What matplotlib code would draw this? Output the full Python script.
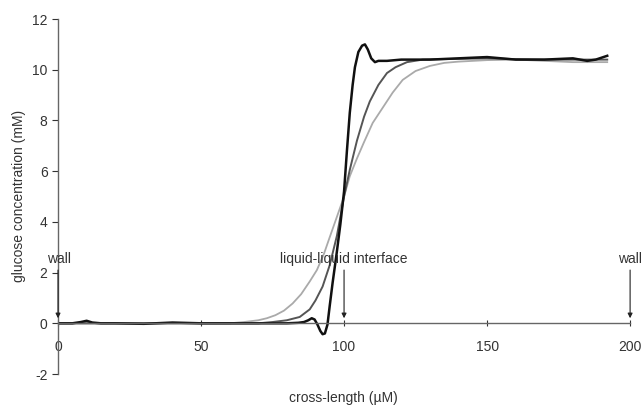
import matplotlib
matplotlib.use('Agg')
import matplotlib.pyplot as plt

plt.rcParams['font.family'] = ['Liberation Sans', 'DejaVu Sans']
plt.rcParams['axes.unicode_minus'] = False

# light gray profile (most diffused)
x_light = [0, 10, 30, 50, 60, 65, 70, 73, 76, 79, 82, 85, 88, 90.5, 93, 95, 97.5, 100, 102, 104.5, 107, 110, 113.5,
           117, 120.5, 125, 130, 135, 140, 150, 160, 170, 180, 192]
y_light = [0, 0, 0, 0, 0, 0.05, 0.12, 0.2, 0.32, 0.5, 0.78, 1.15, 1.65, 2.1, 2.75, 3.4, 4.2, 5.0, 5.8, 6.5, 7.15,
           7.9, 8.5, 9.1, 9.6, 9.95, 10.15, 10.27, 10.32, 10.38, 10.4, 10.35, 10.3, 10.3]

# dark gray profile
x_dark = [0, 30, 50, 70, 75, 80, 84.5, 88, 90, 92.5, 95, 97.5, 100, 102, 104.5, 107, 109, 112, 115, 118, 122,
          127.5, 135, 150, 160, 170, 180, 192]
y_dark = [0, 0, 0, 0, 0.05, 0.12, 0.25, 0.55, 0.9, 1.45, 2.3, 3.45, 5.0, 6.05, 7.2, 8.15, 8.75, 9.4, 9.87, 10.1,
          10.3, 10.4, 10.42, 10.45, 10.42, 10.4, 10.4, 10.4]

# black profile (sharp, with overshoot)
x_black = [0, 5, 8, 10, 12, 15, 20, 30, 40, 50, 60, 70, 80, 84, 86, 87.5, 88.7, 89.7, 90.7, 91.7, 92.5, 93.3,
           94.2, 95, 96, 97.4, 98.7, 100, 101, 102, 103, 103.8, 105, 106.3, 107.3, 108.3, 109.5, 110.8, 112, 115,
           120, 130, 140, 150, 160, 170, 180, 185, 188, 192]
y_black = [0, 0, 0.05, 0.1, 0.03, 0, 0, -0.02, 0.03, 0, 0, 0, 0, 0.02, 0.05, 0.12, 0.2, 0.15, -0.05, -0.3, -0.43,
           -0.4, -0.05, 0.7, 1.6, 2.75, 3.9, 5.2, 6.8, 8.3, 9.4, 10.1, 10.7, 10.95, 11.0, 10.8, 10.45, 10.3, 10.35,
           10.35, 10.4, 10.4, 10.45, 10.5, 10.4, 10.4, 10.45, 10.35, 10.4, 10.55]

x_ticks = [0, 50, 100, 150, 200]
y_ticks = [-2, 0, 2, 4, 6, 8, 10, 12]

# (arrow x, text x, label)
markers = [(0, 0.5, 'wall'), (100, 100, 'liquid-liquid interface'), (200, 200, 'wall')]

fig = plt.figure(figsize=(6.41, 4.05), dpi=100)
ax = fig.add_axes([0.0905, 0.0765, 0.8925, 0.8765])

ax.plot(x_light, y_light, color='#aaaaaa', lw=1.3)
ax.plot(x_dark, y_dark, color='#555555', lw=1.4)
ax.plot(x_black, y_black, color='#111111', lw=1.8)

ax.set_xlim(0, 200)
ax.set_ylim(-2, 12)
ax.spines['top'].set_visible(False)
ax.spines['right'].set_visible(False)
ax.spines['bottom'].set_position(('data', 0))
for s in ['left', 'bottom']:
    ax.spines[s].set_color('#666666')
    ax.spines[s].set_linewidth(1.0)
    ax.spines[s].set_clip_on(False)

ax.set_xticks(x_ticks)
ax.set_yticks(y_ticks)
ax.tick_params(axis='x', direction='inout', length=4, pad=10, labelsize=10, colors='#333333')
ax.tick_params(axis='y', direction='out', length=4, labelsize=10, colors='#333333')

for xa, xt, label in markers:
    ax.text(xt, 2.55, label, ha='center', va='center', fontsize=10, color='#333333')
    ax.annotate('', xy=(xa, 0.2), xytext=(xa, 2.1),
                arrowprops=dict(arrowstyle='-|>', color='#222222', lw=0.8,
                                mutation_scale=7, shrinkA=0, shrinkB=0),
                annotation_clip=False)

fig.text(0.535, 0.017, 'cross-length (µM)', ha='center', va='center', fontsize=10, color='#333333')
fig.text(0.029, 0.515, 'glucose concentration (mM)', ha='center', va='center', rotation=90,
         fontsize=10, color='#333333')

fig.savefig('out.png', dpi=100)
